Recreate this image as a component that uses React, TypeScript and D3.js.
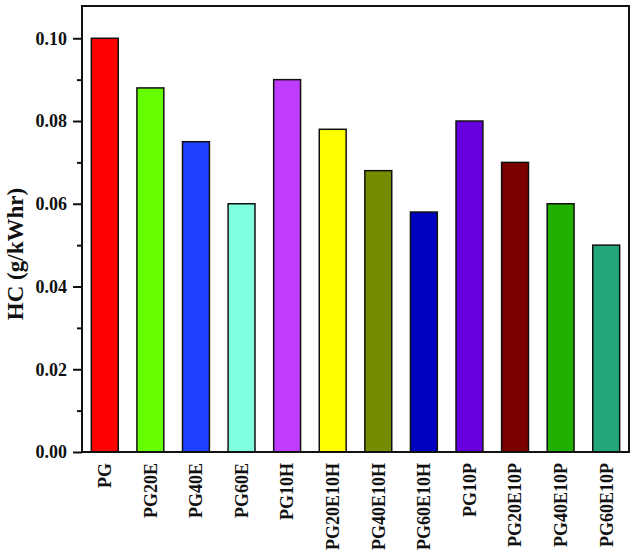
import React, { useEffect, useRef } from "react";
import * as d3 from "d3";

const categories = [
  "PG", "PG20E", "PG40E", "PG60E", "PG10H", "PG20E10H",
  "PG40E10H", "PG60E10H", "PG10P", "PG20E10P", "PG40E10P", "PG60E10P",
];
const values = [0.1, 0.088, 0.075, 0.06, 0.09, 0.078, 0.068, 0.058, 0.08, 0.07, 0.06, 0.05];
const colors = [
  "#ff0000", "#66ff00", "#2040ff", "#80ffe0", "#c03cff", "#ffff00",
  "#768c00", "#0000c0", "#6600dd", "#7a0000", "#22b000", "#22a67a",
];
const yTicks = [0, 0.02, 0.04, 0.06, 0.08, 0.1];
const yMinorTicks = [0.01, 0.03, 0.05, 0.07, 0.09];
const yLabel = "HC (g/kWhr)";

const W = 640, H = 558;
const M = { left: 82, right: 11, top: 6, bottom: 106 };

export default function App() {
  const ref = useRef<SVGSVGElement>(null);
  useEffect(() => {
    const svg = d3.select(ref.current);
    svg.selectAll("*").remove();
    const x0 = M.left, x1 = W - M.right, y0 = H - M.bottom, y1 = M.top;
    const x = d3.scaleBand().domain(categories).range([x0, x1]).paddingInner(0.41).paddingOuter(0.205);
    const y = d3.scaleLinear().domain([0, 0.1078]).range([y0, y1]);
    const font = "'Liberation Serif', 'Times New Roman', serif";

    svg.append("g").selectAll("rect").data(categories).join("rect")
      .attr("x", (d) => x(d)!)
      .attr("y", (_d, i) => y(values[i]))
      .attr("width", x.bandwidth())
      .attr("height", (_d, i) => y(0) - y(values[i]))
      .attr("fill", (_d, i) => colors[i])
      .attr("stroke", "#111")
      .attr("stroke-width", 1.5);

    svg.append("rect")
      .attr("x", x0).attr("y", y1).attr("width", x1 - x0).attr("height", y0 - y1)
      .attr("fill", "none").attr("stroke", "#111").attr("stroke-width", 2);

    const yAxis = svg.append("g").attr("transform", `translate(${x0},0)`)
      .call(d3.axisLeft(y).tickValues(yTicks).tickSize(9).tickPadding(6).tickFormat(d3.format(".2f")));
    yAxis.select(".domain").remove();
    yAxis.selectAll("line").attr("stroke", "#111").attr("stroke-width", 2);
    yAxis.selectAll("text").attr("font-family", font).attr("font-weight", "bold")
      .attr("font-size", 18).attr("fill", "#111");

    const yMinor = svg.append("g").attr("transform", `translate(${x0},0)`)
      .call(d3.axisLeft(y).tickValues(yMinorTicks).tickSize(5).tickFormat(() => ""));
    yMinor.select(".domain").remove();
    yMinor.selectAll("line").attr("stroke", "#111").attr("stroke-width", 2);

    svg.append("g").selectAll("text").data(categories).join("text")
      .attr("transform", (d) => `translate(${x(d)! + x.bandwidth() / 2},${y0 + 11}) rotate(-90)`)
      .attr("dy", "0.35em")
      .attr("text-anchor", "end")
      .attr("font-family", font).attr("font-weight", "bold").attr("font-size", 18)
      .attr("fill", "#111")
      .text((d) => d);

    svg.append("text")
      .attr("transform", `translate(23,254) rotate(-90)`)
      .attr("text-anchor", "middle")
      .attr("font-family", font).attr("font-weight", "bold").attr("font-size", 23)
      .attr("fill", "#111")
      .text(yLabel);
  }, []);
  return (
    <div style={{ position: "absolute", left: 0, top: 0 }}>
      <svg ref={ref} width={W} height={H} style={{ display: "block", background: "#fff" }} />
    </div>
  );
}
